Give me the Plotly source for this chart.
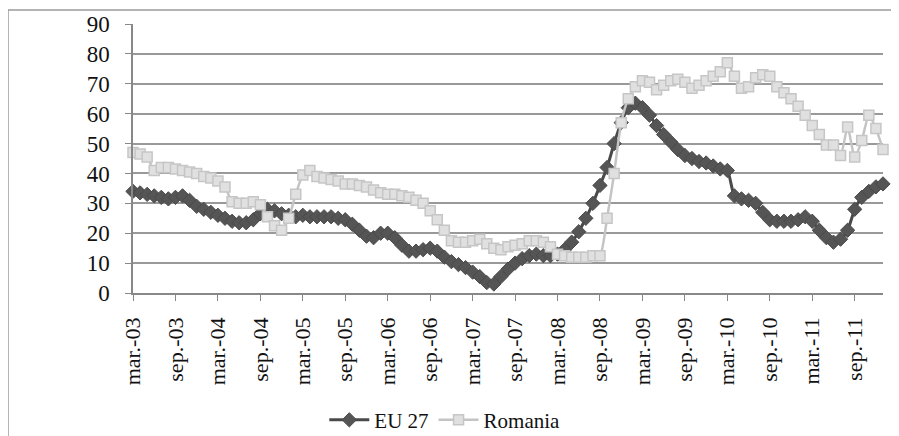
import plotly.graph_objects as go

# monthly observations, mar-03 .. jan-12
month_names = ["ian.", "feb.", "mar.", "apr.", "mai", "iun.", "iul.", "aug.", "sep.", "oct.", "noi.", "dec."]
start_year, start_month, n_months = 2003, 2, 107
categories = []
for k in range(n_months):
    m = (start_month + k) % 12
    y = start_year + (start_month + k) // 12
    categories.append(f"{month_names[m]}-{y % 100:02d}")

eu27 = [
    34, 33.5, 33, 32.5, 32, 31.5, 32, 32.5, 31, 29,
    28, 27, 26, 25, 24, 23.5, 23.5, 24.5, 26.5, 28,
    27.5, 26.5, 26, 25.5, 26, 25.5, 25.5, 25.5, 25.5, 25,
    24.5, 23, 21, 19, 18.5, 20, 20, 18.5, 16, 14,
    14, 14.5, 15, 14, 12, 10.5, 9.5, 8.5, 7, 5.5,
    3.5, 3, 5.5, 8, 10, 11.5, 12.5, 13, 12.5, 12.5,
    13, 14.5, 17, 20.5, 25, 30, 36, 42, 50, 57,
    62, 63.5, 62, 59.5, 56, 53, 50.5, 48, 46, 45,
    44, 43.5, 42.5, 41.5, 41, 32.5, 31.5, 31, 30, 27,
    24.5, 24, 24, 24, 24.5, 25.5, 24, 21, 18.5, 17,
    18, 21, 28, 32, 34, 35.5, 36.5,
]

romania = [
    47, 46.5, 45.5, 41, 42, 42, 41.5, 41, 40.5, 40,
    39, 38.5, 37.5, 35.5, 30.5, 30, 30, 30.5, 29.5, 25.5,
    22.5, 21, 25, 33, 39.5, 41, 39, 38.5, 38, 37.5,
    36.5, 36.5, 36, 35.5, 34.5, 33.5, 33, 33, 32.5, 32,
    31, 30, 27.5, 24.5, 21, 17.5, 17, 17, 17.5, 18,
    16.5, 15, 14.5, 15.5, 16, 16.5, 17.5, 17.5, 17, 15.5,
    13, 12.5, 12, 12, 12, 12.5, 12.5, 25, 40, 57,
    65, 69, 71, 70.5, 68, 69.5, 71, 71.5, 70.5, 68.5,
    69.5, 71, 72.5, 74, 77, 72.5, 68.5, 69, 72, 73,
    72.5, 69, 67, 65, 62.5, 59.5, 56, 53, 49.5, 49.5,
    46, 55.5, 45.5, 51, 59.5, 55, 48,
]

y_ticks = [0, 10, 20, 30, 40, 50, 60, 70, 80, 90]
x_ticks = categories[::6]

serif = "Liberation Serif, Times New Roman, serif"

fig = go.Figure()

fig.add_trace(
    go.Scatter(
        x=categories, y=eu27, name="EU 27",
        mode="lines+markers",
        line={"color": "#4a4a4a", "width": 3, "shape": "spline", "smoothing": 0.6},
        marker={"symbol": "diamond", "size": 11, "color": "#555555",
                "line": {"color": "#4a4a4a", "width": 1}},
        cliponaxis=False,
    )
)

fig.add_trace(
    go.Scatter(
        x=categories, y=romania, name="Romania",
        mode="lines+markers",
        line={"color": "#c4c4c4", "width": 2.5, "shape": "spline", "smoothing": 0.6},
        marker={"symbol": "square", "size": 10, "color": "#e0e0e0",
                "line": {"color": "#c6c6c6", "width": 1.5}},
        cliponaxis=False,
    )
)

# outer chart frame
fig.add_shape(type="rect", xref="paper", yref="paper",
              x0=-0.1667, x1=1.03, y0=-0.57, y1=1.052,
              line={"color": "#9a9a9a", "width": 1.5}, fillcolor="rgba(0,0,0,0)")

# the page body offsets the figure by 8px, so size it 8px smaller
fig.update_layout(
    width=891, height=428,
    margin={"l": 125, "r": 16, "t": 16, "b": 143, "autoexpand": False},
    paper_bgcolor="white", plot_bgcolor="white",
    font={"family": serif, "size": 20, "color": "#111111"},
    showlegend=True,
    legend={"orientation": "h", "xref": "container", "yref": "container",
            "x": 0.355, "xanchor": "left", "y": 0.037, "yanchor": "middle",
            "font": {"family": serif, "size": 21, "color": "#111111"},
            "itemwidth": 40, "tracegroupgap": 0},
    xaxis={
        "type": "category", "range": [0, n_months - 1],
        "tickmode": "array", "tickvals": x_ticks, "ticktext": x_ticks,
        "tickangle": -90, "ticks": "outside", "ticklen": 6, "tickcolor": "#888888",
        "showgrid": False, "showline": True, "linecolor": "#888888", "linewidth": 1.5,
        "tickfont": {"family": serif, "size": 22, "color": "#111111"},
        "zeroline": False, "ticklabelstandoff": 8,
    },
    yaxis={
        "range": [0, 90], "tickmode": "array", "tickvals": y_ticks,
        "ticks": "outside", "ticklen": 6, "tickcolor": "#888888",
        "showgrid": True, "gridcolor": "#999999", "gridwidth": 1.5,
        "showline": True, "linecolor": "#888888", "linewidth": 1.5,
        "tickfont": {"family": serif, "size": 23, "color": "#111111"},
        "zeroline": False, "ticklabelstandoff": 11,
    },
)

fig.write_html("out.html")
